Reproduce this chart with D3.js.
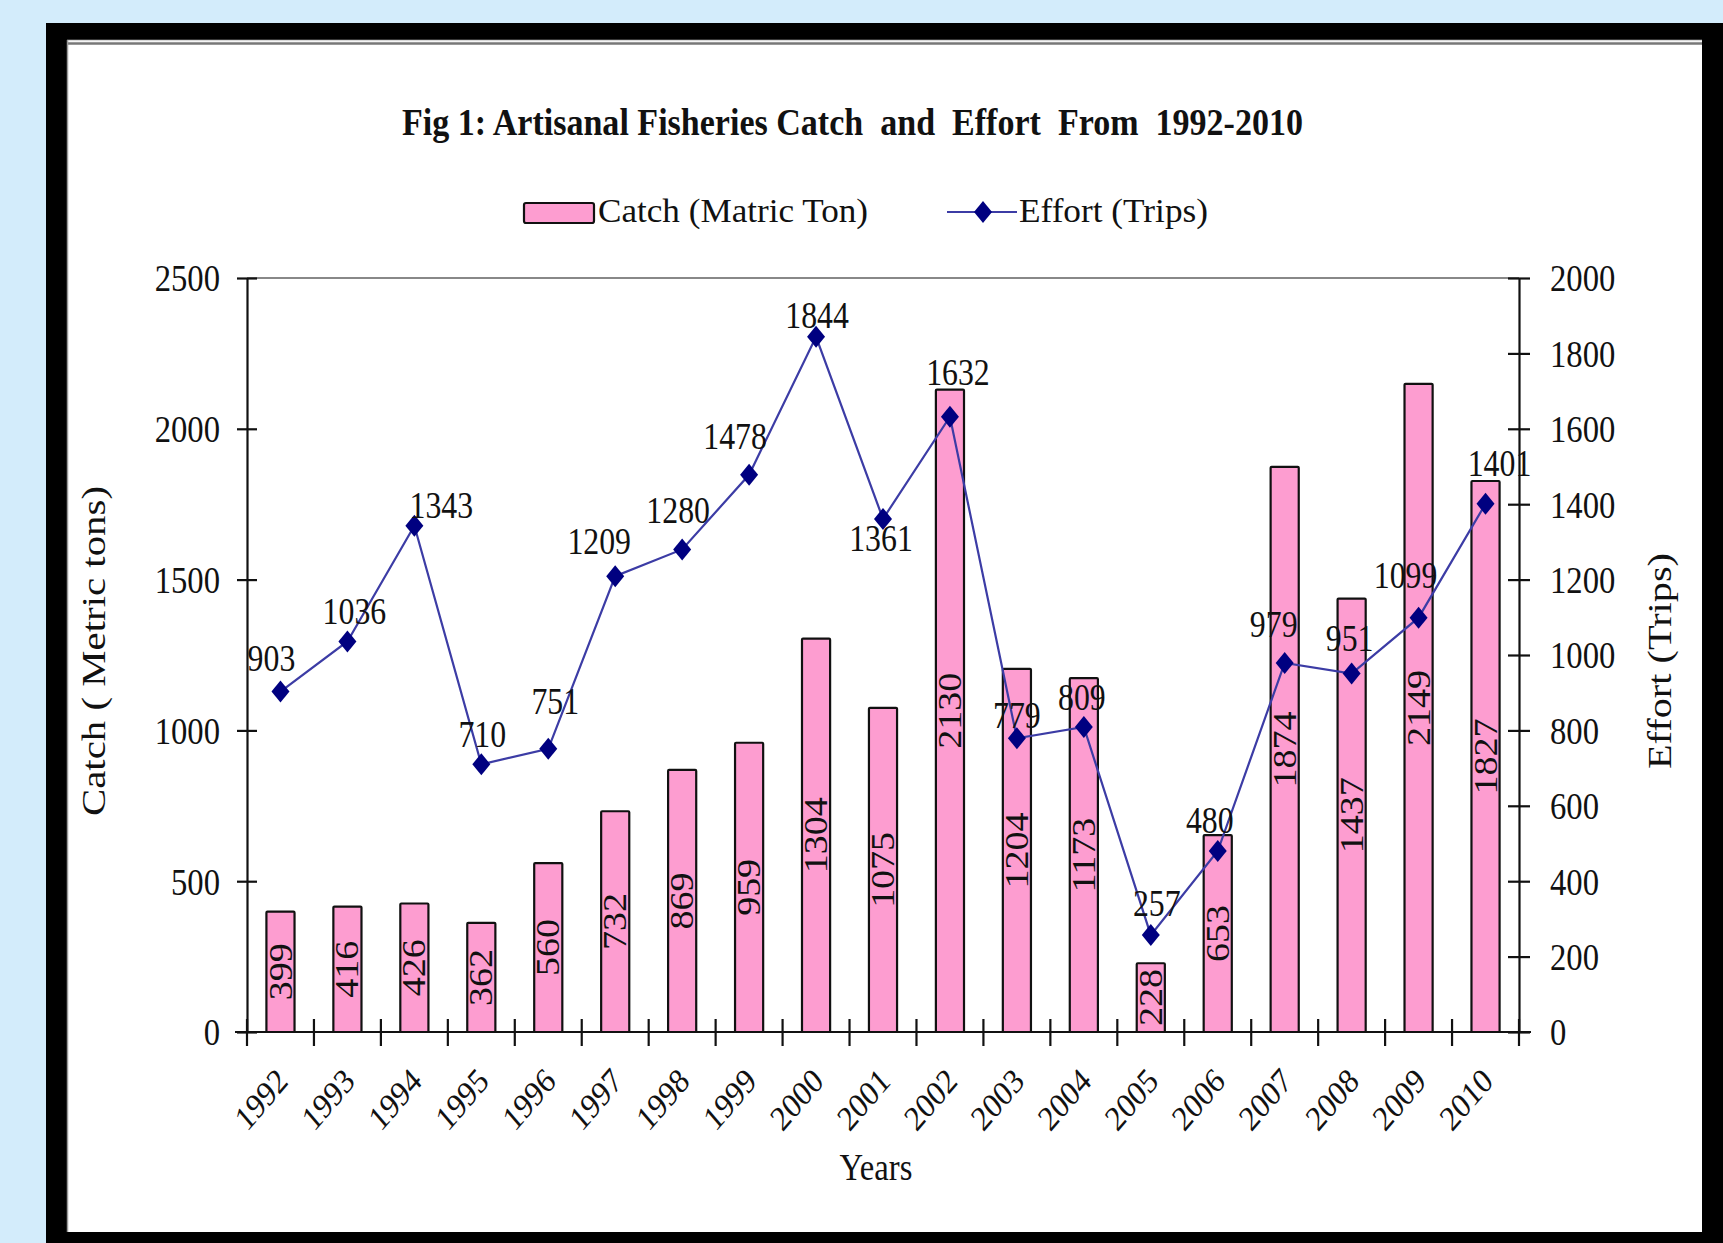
<!DOCTYPE html>
<html>
<head>
<meta charset="utf-8">
<script src="https://cdn.jsdelivr.net/npm/d3@7"></script>
<style>
html, body { margin: 0; padding: 0; background: #d3ecfb; }
svg { display: block; }
text { font-family: "Liberation Serif", "Times New Roman", serif; fill: #111; }
</style>
</head>
<body>
<svg id="chart" width="1723" height="1243"></svg>
<script>
window.onload = main;

const years = ['1992', '1993', '1994', '1995', '1996', '1997', '1998', '1999', '2000', '2001',
               '2002', '2003', '2004', '2005', '2006', '2007', '2008', '2009', '2010'];
const catchTons = [399, 416, 426, 362, 560, 732, 869, 959, 1304, 1075,
                   2130, 1204, 1173, 228, 653, 1874, 1437, 2149, 1827];
const effortTrips = [903, 1036, 1343, 710, 751, 1209, 1280, 1478, 1844, 1361,
                     1632, 779, 809, 257, 480, 979, 951, 1099, 1401];
const catchTicks = [0, 500, 1000, 1500, 2000, 2500];
const effortTicks = [0, 200, 400, 600, 800, 1000, 1200, 1400, 1600, 1800, 2000];

// the effort labels were dragged around by hand in the original (dx, dy from marker)
const effortNudge = [[-9, -33], [7, -30], [27, -21], [1, -30], [7, -48], [-16, -35],
                     [-4, -39], [-14, -39], [1, -22], [-2, 19], [8, -45], [0, -23],
                     [-2, -30], [6, -32], [-8, -31], [-11, -39], [-2, -35], [-13, -43],
                     [14, -41]];

const PINK = '#fd9dd0';
const NAVY = '#000080';
const LINE = '#3c3ca5';
const SQUASH = 0.86;   // the picture is a bit narrower than the fonts

const PLOT = {left: 247, right: 1519, top: 278, bottom: 1032};

function diamond(w, h){
    return `M0,${-h}L${w},0L0,${h}L${-w},0Z`;
}

function frame(svg){
    svg.append('rect').attr('width', 1723).attr('height', 1243).attr('fill', '#d3ecfb');
    svg.append('rect').attr('x', 46).attr('y', 23).attr('width', 1677).attr('height', 1220)
        .attr('fill', '#000');
    svg.append('rect').attr('x', 67).attr('y', 40).attr('width', 1635).attr('height', 1192)
        .attr('fill', '#fff');
    svg.append('line').attr('x1', 67).attr('x2', 1702).attr('y1', 40.5).attr('y2', 40.5)
        .attr('stroke', '#d8d8d8').attr('stroke-width', 1.5);
    svg.append('line').attr('x1', 67).attr('x2', 1702).attr('y1', 43.5).attr('y2', 43.5)
        .attr('stroke', '#777').attr('stroke-width', 2.5);
    svg.append('line').attr('x1', 67.5).attr('x2', 67.5).attr('y1', 40).attr('y2', 1232)
        .attr('stroke', '#999').attr('stroke-width', 1.5);
}

function main(){
    const svg = d3.select('#chart');
    frame(svg);

    const x = d3.scaleBand().domain(years).range([PLOT.left, PLOT.right])
                .paddingInner(0.58).paddingOuter(0.29);
    const yL = d3.scaleLinear().domain([0, 2500]).range([PLOT.bottom, PLOT.top]);
    const yR = d3.scaleLinear().domain([0, 2000]).range([PLOT.bottom, PLOT.top]);
    const cx = d => x(d) + x.bandwidth() / 2;

    // title
    svg.append('text').attr('x', 402).attr('y', 135)
        .attr('font-size', 38).attr('font-weight', 'bold')
        .attr('textLength', 901).attr('lengthAdjust', 'spacingAndGlyphs')
        .style('white-space', 'pre')
        .text('Fig 1: Artisanal Fisheries Catch  and  Effort  From  1992-2010');

    // legend
    const leg = svg.append('g');
    leg.append('rect').attr('x', 524).attr('y', 203).attr('width', 70).attr('height', 20)
        .attr('rx', 2).attr('fill', PINK).attr('stroke', '#111').attr('stroke-width', 2.2);
    leg.append('text').attr('x', 598).attr('y', 222).attr('font-size', 33)
        .attr('textLength', 270).attr('lengthAdjust', 'spacingAndGlyphs')
        .text('Catch (Matric Ton)');
    leg.append('line').attr('x1', 947).attr('x2', 1017).attr('y1', 212).attr('y2', 212)
        .attr('stroke', LINE).attr('stroke-width', 2.2);
    leg.append('path').attr('d', diamond(9, 11)).attr('transform', 'translate(983,212)')
        .attr('fill', NAVY);
    leg.append('text').attr('x', 1019).attr('y', 222).attr('font-size', 33)
        .attr('textLength', 189).attr('lengthAdjust', 'spacingAndGlyphs')
        .text('Effort (Trips)');

    // top border of the plot area
    svg.append('line').attr('x1', PLOT.left).attr('x2', PLOT.right)
        .attr('y1', PLOT.top).attr('y2', PLOT.top)
        .attr('stroke', '#888').attr('stroke-width', 2);

    // bars
    svg.append('g').selectAll('rect').data(years).join('rect')
        .attr('x', d => x(d)).attr('width', x.bandwidth())
        .attr('y', (d, i) => yL(catchTons[i]))
        .attr('height', (d, i) => yL(0) - yL(catchTons[i]))
        .attr('rx', 1)
        .attr('fill', PINK).attr('stroke', '#111').attr('stroke-width', 2.2);

    svg.append('g').selectAll('text').data(years).join('text')
        .attr('transform', (d, i) =>
            `translate(${cx(d)},${(yL(catchTons[i]) + yL(0)) / 2}) scale(${SQUASH},1) rotate(-90)`)
        .attr('text-anchor', 'middle').attr('dominant-baseline', 'central')
        .attr('font-size', 38)
        .text((d, i) => catchTons[i]);

    // left axis
    const gL = svg.append('g').attr('transform', `translate(${PLOT.left},0)`)
        .call(d3.axisLeft(yL).tickValues(catchTicks).tickFormat(d3.format('d'))
                .tickSize(10).tickSizeOuter(0));
    gL.selectAll('.tick line').attr('x1', 10);
    gL.selectAll('.tick text').attr('x', null).attr('dy', null)
        .attr('transform', `translate(-27,0) scale(${SQUASH},1)`)
        .attr('dominant-baseline', 'central');

    // right axis
    const gR = svg.append('g').attr('transform', `translate(${PLOT.right},0)`)
        .call(d3.axisRight(yR).tickValues(effortTicks).tickFormat(d3.format('d'))
                .tickSize(11).tickSizeOuter(0));
    gR.selectAll('.tick line').attr('x1', -11);
    gR.selectAll('.tick text').attr('x', null).attr('dy', null)
        .attr('transform', `translate(31,0) scale(${SQUASH},1)`)
        .attr('dominant-baseline', 'central');

    [gL, gR].forEach(g => {
        g.attr('font-size', 38).attr('font-family', null);
        g.selectAll('path, line').attr('stroke', '#111').attr('stroke-width', 2.2);
        g.selectAll('text').attr('fill', '#111');
    });

    // x axis: ticks sit between the categories and cross the line
    const gX = svg.append('g');
    gX.append('line').attr('x1', PLOT.left - 12).attr('x2', PLOT.right + 12)
        .attr('y1', PLOT.bottom).attr('y2', PLOT.bottom)
        .attr('stroke', '#111').attr('stroke-width', 2.2);
    const bounds = years.map(d => cx(d) - x.step() / 2).concat([PLOT.right]);
    gX.selectAll('line.tk').data(bounds).join('line').classed('tk', true)
        .attr('x1', d => d).attr('x2', d => d)
        .attr('y1', PLOT.bottom - 13).attr('y2', PLOT.bottom + 14)
        .attr('stroke', '#111').attr('stroke-width', 2.2);
    gX.selectAll('text').data(years).join('text')
        .attr('transform', d => `translate(${cx(d) + 9},1083) scale(${SQUASH},1) rotate(-45)`)
        .attr('text-anchor', 'end').attr('font-size', 35)
        .text(d => d);

    // effort line
    const line = d3.line().x((d, i) => cx(years[i])).y(d => yR(d));
    svg.append('path').datum(effortTrips).attr('d', line)
        .attr('fill', 'none').attr('stroke', LINE).attr('stroke-width', 2.2);
    svg.append('g').selectAll('path').data(effortTrips).join('path')
        .attr('d', diamond(9, 11))
        .attr('transform', (d, i) => `translate(${cx(years[i])},${yR(d)})`)
        .attr('fill', NAVY);
    svg.append('g').selectAll('text').data(effortTrips).join('text')
        .attr('transform', (d, i) =>
            `translate(${cx(years[i]) + effortNudge[i][0]},${yR(d) + effortNudge[i][1]}) scale(${SQUASH},1)`)
        .attr('text-anchor', 'middle').attr('dominant-baseline', 'central')
        .attr('font-size', 37)
        .text(d => d);

    // axis titles
    svg.append('text').attr('transform', `translate(93,651) scale(${SQUASH},1) rotate(-90)`)
        .attr('text-anchor', 'middle').attr('dominant-baseline', 'central')
        .attr('font-size', 40).attr('textLength', 330).attr('lengthAdjust', 'spacingAndGlyphs')
        .text('Catch ( Metric tons)');
    svg.append('text').attr('transform', `translate(1659,661) scale(${SQUASH},1) rotate(-90)`)
        .attr('text-anchor', 'middle').attr('dominant-baseline', 'central')
        .attr('font-size', 40).attr('textLength', 216).attr('lengthAdjust', 'spacingAndGlyphs')
        .text('Effort (Trips)');
    svg.append('text').attr('transform', `translate(876,1180) scale(${SQUASH},1)`)
        .attr('text-anchor', 'middle').attr('font-size', 38)
        .text('Years');
}
</script>
</body>
</html>
